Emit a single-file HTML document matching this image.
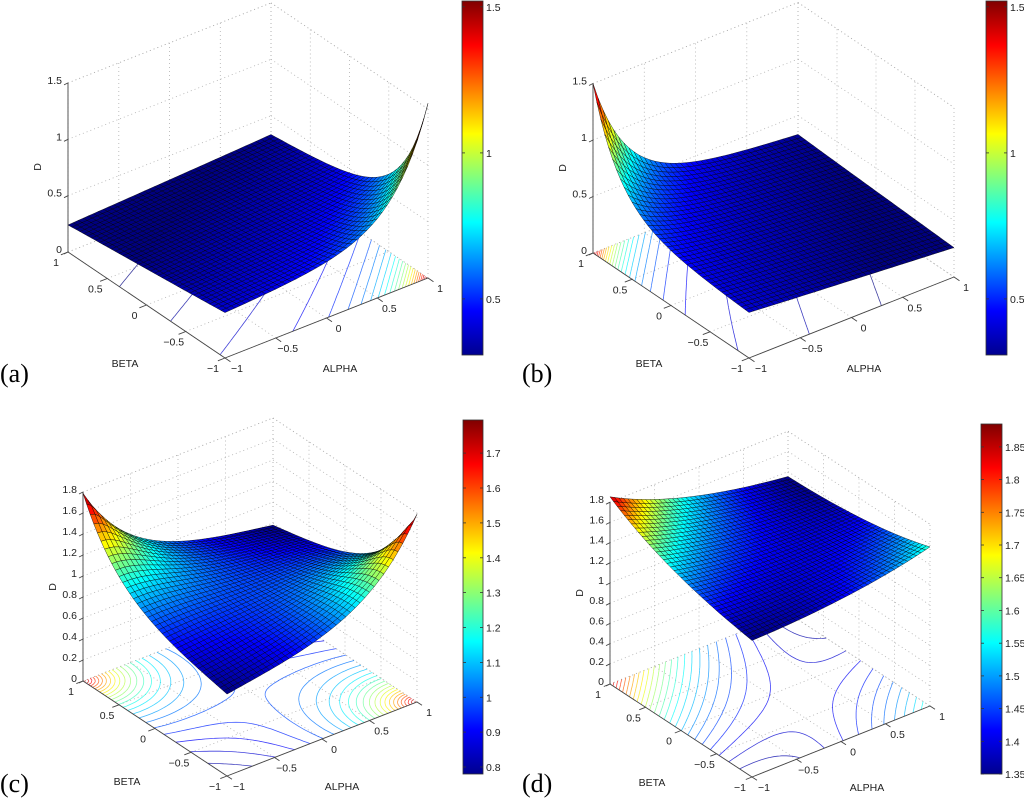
<!DOCTYPE html>
<html><head><meta charset="utf-8"><style>
html,body{margin:0;padding:0;background:#fff;}
svg{display:block;font-family:"Liberation Sans",sans-serif;}
.tk{font-size:10.5px;fill:#222;}
.pl{font-family:"Liberation Serif",serif;font-size:26px;fill:#000;}
</style></head><body>
<svg id="fig" width="1024" height="804" viewBox="0 0 1024 804" xmlns="http://www.w3.org/2000/svg">
<defs>
<linearGradient id="jetg" x1="0" y1="1" x2="0" y2="0">
<stop offset="0" stop-color="#00008f"/><stop offset="0.125" stop-color="#0000ff"/><stop offset="0.375" stop-color="#00ffff"/><stop offset="0.625" stop-color="#ffff00"/><stop offset="0.875" stop-color="#ff0000"/><stop offset="1" stop-color="#800000"/>
</linearGradient>
</defs>
<rect width="1024" height="804" fill="#fff"/>
</svg>
<script>
// surface parameters per panel: [c0, cAlpha, cBeta, eRight, eLeft, k, cSaddle, radial]
const surfA = [0.365, 0.045, -0.08, 1.06, 0.0, 3.0, 0.0, 0];
const surfB = [0.365, -0.07, 0.035, 0.0, 1.03, 3.0, 0.0, 0];
const surfC = [0.828, 0.0, 0.0, 0.955, 0.955, 1.8, 0.1, 1];
const surfD = [1.22, 0.0, 0.0, 0.33, 0.62, 0.8, 0.06, 0];
const zTicksAB = [0, 0.5, 1, 1.5];
const zTicksCD = [0, 0.2, 0.4, 0.6, 0.8, 1, 1.2, 1.4, 1.6, 1.8];
const xyTicks = [-1, -0.5, 0, 0.5, 1];
const cbTicksA = [0.5, 1, 1.5];
const cbTicksB = [0.5, 1, 1.5];
const cbTicksC = [0.8, 0.9, 1, 1.1, 1.2, 1.3, 1.4, 1.5, 1.6, 1.7];
const cbTicksD = [1.35, 1.4, 1.45, 1.5, 1.55, 1.6, 1.65, 1.7, 1.75, 1.8, 1.85];
const climA = [0.308, 1.52];
const climB = [0.308, 1.52];
const climC = [0.78, 1.795];
const climD = [1.35, 1.885];

const NS = "http://www.w3.org/2000/svg";
const svg = document.getElementById('fig');
function mk(tag, attrs, parent){const e=document.createElementNS(NS,tag);for(const k in attrs)e.setAttribute(k,attrs[k]);(parent||svg).appendChild(e);return e;}
function cl(v){return Math.max(0,Math.min(1,v));}
function jet(t){t=cl(t);const r=cl(1.5-Math.abs(4*t-3)),g=cl(1.5-Math.abs(4*t-2)),b=cl(1.5-Math.abs(4*t-1));return 'rgb('+Math.round(r*255)+','+Math.round(g*255)+','+Math.round(b*255)+')';}
function fmt(v){return v<0?'\u2212'+(-v):''+v;}

const panels = [
 {id:'a', p:surfA, F:[225,358], A:[203,-80], B:[-157,-106], Zs:112.7, ztop:1.5, zt:zTicksAB, clim:climA, cb:[462,1,21,354], cbt:cbTicksA, lab:[0,382]},
 {id:'b', p:surfB, F:[749,358], A:[205,-81], B:[-156,-105], Zs:113, ztop:1.5, zt:zTicksAB, clim:climB, cb:[986,1,21,354], cbt:cbTicksB, lab:[522,382]},
 {id:'c', p:surfC, F:[227,776], A:[190,-74], B:[-144,-95], Zs:105, ztop:1.8, zt:zTicksCD, clim:climC, cb:[463,420,20,354], cbt:cbTicksC, lab:[0,792]},
 {id:'d', p:surfD, F:[752,777], A:[178,-71], B:[-142,-93], Zs:101, ztop:1.8, zt:zTicksCD, clim:climD, cb:[981,424,21,350], cbt:cbTicksD, lab:[522,792]}
];

function fval(p,a,b){
  const s=(a+b)/2;
  let eR, eL;
  if(p[7]){
    const rR=Math.sqrt((1-a)*(1-a)+(1+b)*(1+b)), rL=Math.sqrt((1+a)*(1+a)+(1-b)*(1-b));
    eR=Math.exp(-p[5]*rR); eL=Math.exp(-p[5]*rL);
  } else {
    const d=a-b; eR=Math.exp(p[5]*(d-2)); eL=Math.exp(p[5]*(-d-2));
  }
  return p[0]+p[1]*a+p[2]*b+p[3]*eR+p[4]*eL-p[6]*s*s;
}

panels.forEach(function(P){
  const g = mk('g',{});
  
  
  function pr(a,b,z){return [P.F[0]+(a+1)/2*P.A[0]+(b+1)/2*P.B[0], P.F[1]+(a+1)/2*P.A[1]+(b+1)/2*P.B[1]-z*P.Zs];}
  function line(p1,p2,st,name){const e=mk('line',{x1:p1[0].toFixed(1),y1:p1[1].toFixed(1),x2:p2[0].toFixed(1),y2:p2[1].toFixed(1),stroke:st.c,'stroke-width':st.w,'stroke-dasharray':st.d||'none'},g);return e;}
  const dot={c:'#b0b0b0',w:0.8,d:'1,3'};
  xyTicks.forEach(function(t){
    line(pr(t,1,0),pr(t,1,P.ztop),dot,'grid-line');
    line(pr(1,t,0),pr(1,t,P.ztop),dot,'grid-line');
    line(pr(t,-1,0),pr(t,1,0),dot,'grid-line');
    line(pr(-1,t,0),pr(1,t,0),dot,'grid-line');
  });
  P.zt.concat([P.ztop]).forEach(function(z){
    line(pr(-1,1,z),pr(1,1,z),dot,'grid-line');
    line(pr(1,1,z),pr(1,-1,z),dot,'grid-line');
  });
  const M=60, lv=24;
  const grid=[];
  let mn=1e9,mx=-1e9;
  for(let i=0;i<=M;i++){grid.push([]);for(let j=0;j<=M;j++){const v=fval(P.p,-1+2*i/M,-1+2*j/M);grid[i].push(v);mn=Math.min(mn,v);mx=Math.max(mx,v);}}
  for(let l=1;l<=lv;l++){
    const L=mn+(mx-mn)*l/(lv+1);
    let d='';
    for(let i=0;i<M;i++)for(let j=0;j<M;j++){
      const c=[[i,j],[i+1,j],[i+1,j+1],[i,j+1]];
      const pts=[];
      for(let e=0;e<4;e++){const p1=c[e],p2=c[(e+1)%4];const v1=grid[p1[0]][p1[1]],v2=grid[p2[0]][p2[1]];
        if((v1<L)!==(v2<L)){const t=(L-v1)/(v2-v1);const ii=p1[0]+t*(p2[0]-p1[0]),jj=p1[1]+t*(p2[1]-p1[1]);pts.push(pr(-1+2*ii/M,-1+2*jj/M,0));}}
      for(let k=0;k+1<pts.length;k+=2)d+='M'+pts[k][0].toFixed(1)+' '+pts[k][1].toFixed(1)+'L'+pts[k+1][0].toFixed(1)+' '+pts[k+1][1].toFixed(1);
    }
    if(d){const e=mk('path',{d:d,fill:'none',stroke:jet((L-P.clim[0])/(P.clim[1]-P.clim[0])),'stroke-width':0.8,'stroke-opacity':0.75},g);
      
      }
  }
  const ax={c:'#444',w:0.9};
  line(pr(-1,1,0),pr(-1,-1,0),ax,'beta-axis');
  line(pr(-1,-1,0),pr(1,-1,0),ax,'alpha-axis');
  line(pr(-1,1,0),pr(-1,1,P.ztop),ax,'z-axis');
  xyTicks.forEach(function(t){
    const p=pr(-1,t,0), q=pr(-1.07,t,0);
    line(p,q,ax,'beta-tick');
    const tx=mk('text',{x:(p[0]-12).toFixed(1),y:(p[1]+14).toFixed(1),'text-anchor':'middle',class:'tk'},g);tx.textContent=fmt(t);
    
    
    const p2=pr(t,-1,0), q2=pr(t,-1.07,0);
    line(p2,q2,ax,'alpha-tick');
    const tx2=mk('text',{x:(p2[0]+12).toFixed(1),y:(p2[1]+14).toFixed(1),'text-anchor':'middle',class:'tk'},g);tx2.textContent=fmt(t);
    
    
  });
  P.zt.forEach(function(z){
    const p=pr(-1,1,z);
    line(p,[p[0]-4,p[1]+2],ax,'z-tick');
    const tx=mk('text',{x:(p[0]-6).toFixed(1),y:(p[1]+1).toFixed(1),'text-anchor':'end',class:'tk'},g);tx.textContent=''+z;
    
    
  });
  const N=40, cells=[];
  for(let i=0;i<N;i++)for(let j=0;j<N;j++)cells.push([i,j]);
  cells.sort(function(u,v){return (v[0]+v[1])-(u[0]+u[1]);});
  cells.forEach(function(c){
    const a0=-1+2*c[0]/N,a1=-1+2*(c[0]+1)/N,b0=-1+2*c[1]/N,b1=-1+2*(c[1]+1)/N;
    const v=[fval(P.p,a0,b0),fval(P.p,a1,b0),fval(P.p,a1,b1),fval(P.p,a0,b1)];
    const q=[pr(a0,b0,v[0]),pr(a1,b0,v[1]),pr(a1,b1,v[2]),pr(a0,b1,v[3])];
    const avg=(v[0]+v[1]+v[2]+v[3])/4;
    const e=mk('polygon',{points:q.map(function(x){return x[0].toFixed(1)+','+x[1].toFixed(1);}).join(' '),fill:jet((avg-P.clim[0])/(P.clim[1]-P.clim[0])),stroke:'#000','stroke-width':0.45,'stroke-opacity':0.85},g);
    
    
  });
  const bt=mk('text',{x:(P.F[0]-100).toFixed(0),y:(P.F[1]+9).toFixed(0),'text-anchor':'middle',class:'tk'},g);bt.textContent='BETA';
  
  
  const at=mk('text',{x:(P.F[0]+115).toFixed(0),y:(P.F[1]+14).toFixed(0),'text-anchor':'middle',class:'tk'},g);at.textContent='ALPHA';
  
  
  const zp=pr(-1,1,P.ztop*0.5);
  const dt=mk('text',{x:0,y:0,'text-anchor':'middle',class:'tk',transform:'translate('+(zp[0]-27).toFixed(0)+','+zp[1].toFixed(0)+') rotate(-90)'},g);dt.textContent='D';
  
  
  const cb=P.cb;
  const r=mk('rect',{x:cb[0],y:cb[1],width:cb[2],height:cb[3],fill:'url(#jetg)',stroke:'#333','stroke-width':0.8},g);
  
  
  P.cbt.forEach(function(t){
    const y=cb[1]+cb[3]-(t-P.clim[0])/(P.clim[1]-P.clim[0])*cb[3];
    line([cb[0],y],[cb[0]+3,y],{c:'#333',w:0.8},'colorbar-tick');
    line([cb[0]+cb[2]-3,y],[cb[0]+cb[2],y],{c:'#333',w:0.8},'colorbar-tick');
    const tx=mk('text',{x:cb[0]+cb[2]+3,y:(y+4).toFixed(1),class:'tk'},g);tx.textContent=''+t;
    
    
  });
  const pl=mk('text',{x:P.lab[0],y:P.lab[1],class:'pl'},g);pl.textContent='('+P.id+')';
  
  
});
</script>
</body></html>
